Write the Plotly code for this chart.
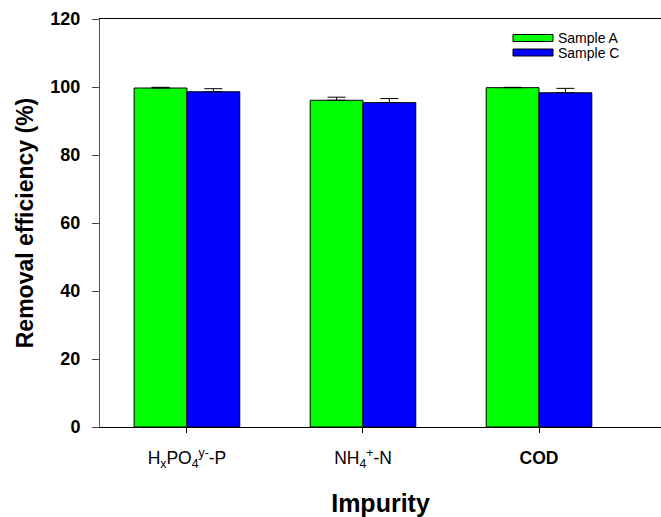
import plotly.graph_objects as go

categories = ["H<sub>x</sub>PO<sub>4</sub><sup>y-</sup>-P", "NH<sub>4</sub><sup>+</sup>-N", "<b>COD</b>"]
sample_a = [99.7, 96.1, 99.8]
sample_a_err = [0.2, 0.9, 0.1]
sample_c = [98.6, 95.4, 98.3]
sample_c_err = [0.9, 1.2, 1.3]
series_names = ["Sample A", "Sample C"]
colors = ["#00FF00", "#0000FF"]

W, H = 661, 517
ML, MT, MB, MR = 100, 19, 90, 0
FONT = "Liberation Sans, Arial"

fig = go.Figure()
for name, vals, errs, col in [(series_names[0], sample_a, sample_a_err, colors[0]),
                              (series_names[1], sample_c, sample_c_err, colors[1])]:
    fig.add_trace(go.Bar(
        x=list(range(len(categories))), y=vals, name=name,
        marker=dict(color=col, line=dict(color="black", width=1)),
        error_y=dict(type="data", array=errs, arrayminus=[0] * len(errs),
                     symmetric=False, color="black", thickness=1, width=9),
        showlegend=False,
    ))

# Manual legend (wide swatches like the original)
pw = W - ML - MR
ph = H - MT - MB
def px2paper_x(px):
    return (px - ML) / pw
def px2paper_y(py):
    return 1 - (py - MT) / ph

shapes = []
annotations = []
for i, (name, col) in enumerate(zip(series_names, colors)):
    y0 = 38 + i * 14.5
    shapes.append(dict(type="rect", xref="paper", yref="paper",
                       x0=px2paper_x(513), x1=px2paper_x(553),
                       y0=px2paper_y(y0 - 3.5), y1=px2paper_y(y0 + 3.5),
                       fillcolor=col, line=dict(color="black", width=1)))
    annotations.append(dict(xref="paper", yref="paper", x=px2paper_x(557), y=px2paper_y(y0),
                            text=name, showarrow=False, xanchor="left", yanchor="middle",
                            borderpad=0,
                            font=dict(family=FONT, size=14, color="black")))

fig.update_layout(
    width=W, height=H,
    margin=dict(l=ML, r=MR, t=MT, b=MB),
    paper_bgcolor="white", plot_bgcolor="white",
    barmode="group", bargap=0.4, bargroupgap=0,
    font=dict(family=FONT, color="black"),
    shapes=shapes, annotations=annotations,
    xaxis=dict(
        range=[-0.494, 2.693],
        tickmode="array", tickvals=list(range(len(categories))), ticktext=categories,
        ticks="outside", ticklen=5, tickcolor="black", tickwidth=1,
        showline=True, linecolor="black", linewidth=1, mirror=True,
        showgrid=False, zeroline=False, ticklabelstandoff=10,
        tickfont=dict(size=17.5, family=FONT, color="black"),
        title=dict(text="<b>Impurity</b>", font=dict(size=25, family=FONT),
                   standoff=26),
    ),
    yaxis=dict(
        range=[0, 120], dtick=20, tick0=0,
        ticks="outside", ticklen=7, tickcolor="#444", tickwidth=1,
        showline=True, linecolor="#555", linewidth=1, mirror=False,
        showgrid=False, zeroline=False, ticklabelstandoff=8,
        tickfont=dict(size=18, family=FONT, color="black"),
        tickprefix="<b>", ticksuffix="</b>",
        title=dict(text="<b>Removal efficiency (%)</b>",
                   font=dict(size=23, family=FONT), standoff=10),
    ),
)

fig.write_html("out.html")
